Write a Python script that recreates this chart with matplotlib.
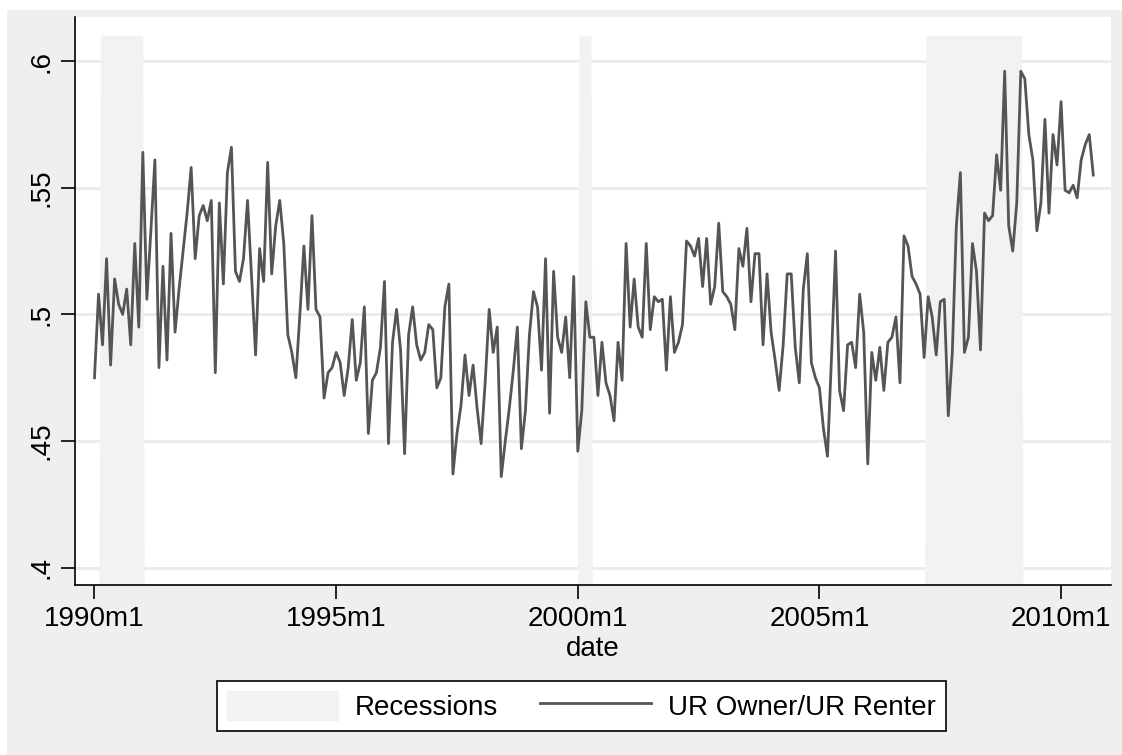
import matplotlib
matplotlib.use("Agg")
import matplotlib.pyplot as plt
from matplotlib.patches import Rectangle, Patch
from matplotlib.lines import Line2D

plt.rcParams['font.family'] = ['Liberation Sans', 'DejaVu Sans']

# Monthly ratio of unemployment rates, owners / renters, starting 1990m1
ratio = [
    0.475, 0.508, 0.488, 0.522, 0.480, 0.514, 0.504, 0.500, 0.510, 0.488,
    0.528, 0.495, 0.564, 0.506, 0.533, 0.561, 0.479, 0.519, 0.482, 0.532,
    0.493, 0.510, 0.525, 0.540, 0.558, 0.522, 0.539, 0.543, 0.537, 0.545,
    0.477, 0.544, 0.512, 0.556, 0.566, 0.517, 0.513, 0.522, 0.545, 0.515,
    0.484, 0.526, 0.513, 0.560, 0.516, 0.535, 0.545, 0.528, 0.492, 0.485,
    0.475, 0.500, 0.527, 0.502, 0.539, 0.502, 0.499, 0.467, 0.477, 0.479,
    0.485, 0.481, 0.468, 0.479, 0.498, 0.474, 0.481, 0.503, 0.453, 0.474,
    0.477, 0.487, 0.513, 0.449, 0.489, 0.502, 0.486, 0.445, 0.492, 0.503,
    0.488, 0.482, 0.485, 0.496, 0.494, 0.471, 0.475, 0.503, 0.512, 0.437,
    0.453, 0.464, 0.484, 0.468, 0.480, 0.463, 0.449, 0.473, 0.502, 0.485,
    0.495, 0.436, 0.450, 0.463, 0.478, 0.495, 0.447, 0.462, 0.492, 0.509,
    0.503, 0.478, 0.522, 0.461, 0.517, 0.491, 0.485, 0.499, 0.475, 0.515,
    0.446, 0.462, 0.505, 0.491, 0.491, 0.468, 0.489, 0.473, 0.468, 0.458,
    0.489, 0.474, 0.528, 0.495, 0.514, 0.495, 0.491, 0.528, 0.494, 0.507,
    0.505, 0.506, 0.478, 0.507, 0.485, 0.489, 0.496, 0.529, 0.527, 0.523,
    0.530, 0.511, 0.530, 0.504, 0.511, 0.536, 0.509, 0.507, 0.504, 0.494,
    0.526, 0.519, 0.534, 0.505, 0.524, 0.524, 0.488, 0.516, 0.493, 0.482,
    0.470, 0.488, 0.516, 0.516, 0.487, 0.473, 0.510, 0.524, 0.481, 0.475,
    0.471, 0.455, 0.444, 0.483, 0.525, 0.470, 0.462, 0.488, 0.489, 0.479,
    0.508, 0.493, 0.441, 0.485, 0.474, 0.487, 0.470, 0.489, 0.491, 0.499,
    0.473, 0.531, 0.527, 0.515, 0.512, 0.508, 0.483, 0.507, 0.499, 0.484,
    0.505, 0.506, 0.460, 0.485, 0.535, 0.556, 0.485, 0.491, 0.528, 0.517,
    0.486, 0.540, 0.537, 0.539, 0.563, 0.549, 0.596, 0.535, 0.525, 0.544,
    0.596, 0.593, 0.571, 0.561, 0.533, 0.544, 0.577, 0.540, 0.571, 0.559,
    0.584, 0.549, 0.548, 0.551, 0.546, 0.561, 0.567, 0.571, 0.555,
]
months = list(range(len(ratio)))  # months since 1990m1

# Recession bands (months since 1990m1) and shading height
rec_start = [1.6, 120.4, 206.6]
rec_end = [12.1, 123.4, 230.3]
rec_top = 0.61

xtick_pos = [0, 60, 120, 180, 240]
xtick_labels = ['1990m1', '1995m1', '2000m1', '2005m1', '2010m1']
ytick_pos = [0.40, 0.45, 0.50, 0.55, 0.60]
ytick_labels = ['.4', '.45', '.5', '.55', '.6']

BG = '#efefef'
REC = '#f2f2f2'
LINE = '#555555'
GRID = '#ececec'

W, H = 1122, 755
fig = plt.figure(figsize=(W / 100, H / 100), dpi=100)
fig.patch.set_facecolor('white')
fig.patches.append(Rectangle((7 / W, 0), 1, (H - 10) / H, transform=fig.transFigure,
                             facecolor=BG, edgecolor='none', zorder=-10))

ax = fig.add_axes([75 / W, (H - 585) / H, (1111 - 75) / W, (585 - 17) / H])
ax.set_facecolor('white')
ax.set_xlim(-4.84, 252.4)
ax.set_ylim(0.3932, 0.6174)

ax.set_axisbelow(True)
ax.yaxis.grid(True, color=GRID, lw=2.2)
ax.xaxis.grid(False)

for s, e in zip(rec_start, rec_end):
    ax.fill_between([s - 1, s, e, e + 1], [0, rec_top, rec_top, 0], 0,
                    facecolor=REC, edgecolor='none', zorder=1)

ax.plot(months, ratio, color=LINE, lw=2.0, zorder=3)

for side in ('top', 'right'):
    ax.spines[side].set_visible(False)
for side in ('left', 'bottom'):
    ax.spines[side].set_linewidth(1.2)
    ax.spines[side].set_color('black')

ax.set_xticks(xtick_pos)
ax.set_xticklabels(xtick_labels)
ax.set_yticks(ytick_pos)
ax.set_yticklabels(ytick_labels, rotation=90, va='center')
ax.tick_params(direction='out', length=10, width=1.2, labelsize=20, pad=5, colors='black')
ax.set_xlabel('date', fontsize=20, labelpad=3)

handles = [Patch(facecolor=REC, edgecolor=REC), Line2D([], [], color=LINE, lw=2.0)]
leg = fig.legend(handles, ['Recessions', 'UR Owner/UR Renter'], loc='center',
                 bbox_to_anchor=(581.5 / W, 1 - 706 / H), ncol=2, fontsize=20,
                 frameon=True, fancybox=False, edgecolor='black', facecolor='white',
                 framealpha=1, handlelength=4.0, handleheight=1.2, handletextpad=0.6,
                 columnspacing=1.5, borderpad=0.38)
leg.get_frame().set_linewidth(1.2)

fig.savefig('out.png', dpi=100, facecolor=fig.get_facecolor())
